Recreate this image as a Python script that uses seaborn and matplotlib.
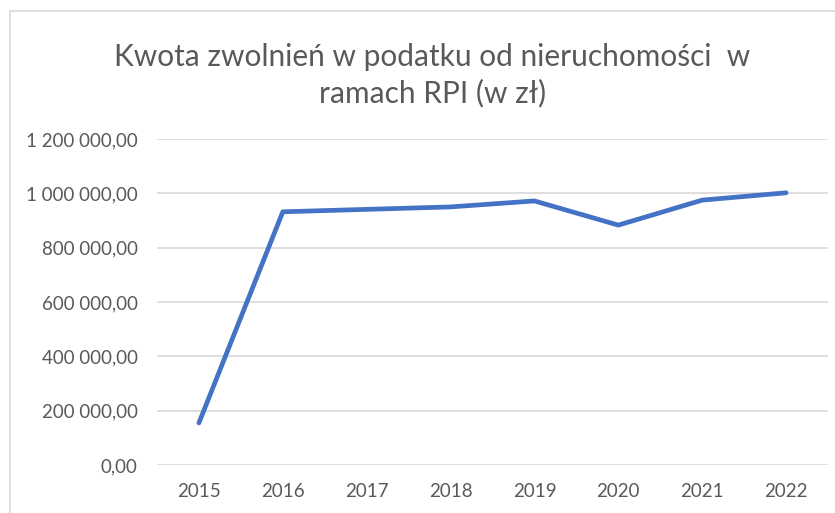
import numpy as np
import pandas as pd
import matplotlib.pyplot as plt
import matplotlib.ticker as mticker
import seaborn as sns

years = ["2015", "2016", "2017", "2018", "2019", "2020", "2021", "2022"]
amounts = [155000, 932000, 941000, 950000, 972000, 883000, 975000, 1002000]
y_ticks = [0, 200000, 400000, 600000, 800000, 1000000, 1200000]

df = pd.DataFrame({"rok": years, "kwota": amounts})

sns.set_style("white")
plt.rcParams['font.family'] = ['Lato', 'DejaVu Sans']

fig = plt.figure(figsize=(8.35, 5.13), dpi=100)
ax = fig.add_axes([157 / 835, 48 / 513, 671 / 835, 326 / 513])

sns.lineplot(data=df, x="rok", y="kwota", ax=ax, color="#4472C4", linewidth=3.4,
             solid_capstyle="round", solid_joinstyle="round")

ax.set_xlim(-0.5, 7.5)
ax.set_ylim(0, 1200000)
ax.set_yticks(y_ticks)


def pl_format(v, pos):
    return f"{v:,.2f}".replace(",", " ").replace(".", ",")


ax.yaxis.set_major_formatter(mticker.FuncFormatter(pl_format))
ax.grid(axis="y", color="#D9D9D9", linewidth=1.2)
ax.set_axisbelow(True)
for s in ax.spines.values():
    s.set_visible(False)
ax.tick_params(axis="both", length=0, labelsize=13.5, labelcolor="#595959", pad=13)
ax.tick_params(axis="y", pad=14)
ax.set_xlabel("")
ax.set_ylabel("")

fig.text(0.518, 0.853, "Kwota zwolnień w podatku od nieruchomości  w\nramach RPI (w zł)",
         ha="center", va="center", fontsize=21.5, color="#595959", linespacing=1.35)

# chart area border
fig.patches.append(plt.Rectangle((10 / 835, -0.1), 1.2, (513 - 11) / 513 + 0.1,
                                 transform=fig.transFigure, fill=False,
                                 edgecolor="#D9D9D9", linewidth=1.2))

fig.savefig("out.png", dpi=100)
